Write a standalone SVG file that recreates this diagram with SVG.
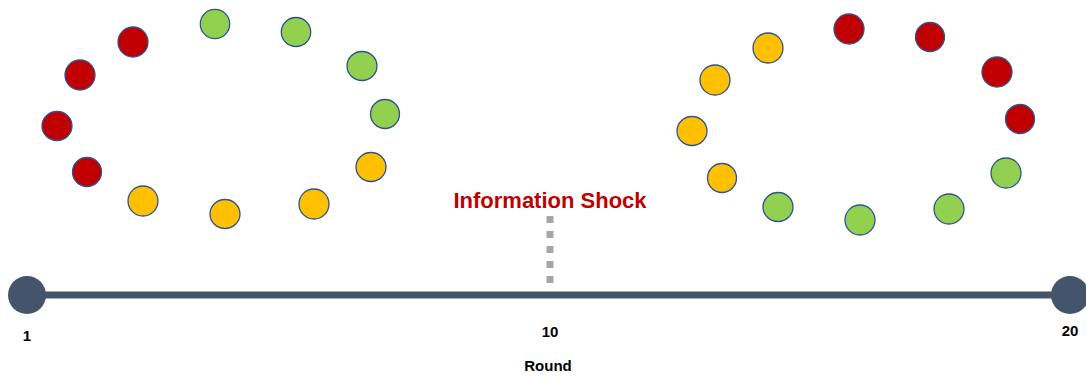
<svg xmlns="http://www.w3.org/2000/svg" width="1086" height="377" viewBox="0 0 1086 377">
<style>
.n{stroke:#2F528F;stroke-width:1.3}
.r{fill:#C00000}
.g{fill:#92D050}
.y{fill:#FFC000}
.lbl{font-family:"Liberation Sans",Arial,sans-serif;font-weight:bold;font-size:15px;fill:#000;text-anchor:middle}
.end{fill:#44546A}
</style>
<rect width="1086" height="377" fill="#fff"/>
<g id="connectors">
<line x1="27" y1="295" x2="1070" y2="295" stroke="#44546A" stroke-width="7"/>
<line x1="550" y1="216" x2="550" y2="284" stroke="#A6A6A6" stroke-width="7" stroke-dasharray="7 8"/>
</g>
<g id="left-cluster">
<g id="L1"><circle class="n r" cx="133" cy="42" r="15"/></g>
<g id="L2"><circle class="n r" cx="80" cy="75" r="15"/></g>
<g id="L3"><ellipse class="n r" cx="57" cy="126" rx="15" ry="14.5"/></g>
<g id="L4"><circle class="n r" cx="87" cy="172" r="14.5"/></g>
<g id="L5"><circle class="n y" cx="143" cy="201" r="15"/></g>
<g id="L6"><ellipse class="n y" cx="225" cy="214" rx="15" ry="14.5"/></g>
<g id="L7"><circle class="n y" cx="314" cy="204" r="15"/></g>
<g id="L8"><ellipse class="n y" cx="371" cy="167" rx="15" ry="14.5"/></g>
<g id="L9"><circle class="n g" cx="385" cy="114" r="14.5"/></g>
<g id="L10"><ellipse class="n g" cx="362" cy="66" rx="15" ry="14.5"/></g>
<g id="L11"><ellipse class="n g" cx="296" cy="32" rx="14.7" ry="14.5"/></g>
<g id="L12"><circle class="n g" cx="215" cy="24" r="14.7"/></g>
</g>
<g id="right-cluster">
<g id="R1"><circle class="n y" cx="768" cy="48" r="15"/></g>
<g id="R2"><circle class="n y" cx="715" cy="80" r="15"/></g>
<g id="R3"><ellipse class="n y" cx="692" cy="131" rx="15" ry="14.5"/></g>
<g id="R4"><ellipse class="n y" cx="722" cy="178" rx="14.5" ry="14.5"/></g>
<g id="R5"><ellipse class="n g" cx="778" cy="207" rx="15" ry="14.5"/></g>
<g id="R6"><circle class="n g" cx="860" cy="220" r="15"/></g>
<g id="R7"><circle class="n g" cx="949" cy="209" r="15"/></g>
<g id="R8"><circle class="n g" cx="1006" cy="173" r="15"/></g>
<g id="R9"><circle class="n r" cx="1020" cy="119" r="14.5"/></g>
<g id="R10"><circle class="n r" cx="997" cy="72" r="15"/></g>
<g id="R11"><ellipse class="n r" cx="930" cy="37" rx="14.5" ry="14.5"/></g>
<g id="R12"><circle class="n r" cx="849" cy="29" r="15"/></g>
</g>
<g id="start"><circle class="end" cx="27" cy="295" r="19"/><text class="lbl" x="27" y="341">1</text></g>
<g id="mid"><text class="lbl" x="550" y="337">10</text></g>
<g id="finish"><circle class="end" cx="1070" cy="295" r="19"/><text class="lbl" x="1070" y="336">20</text></g>
<g id="axis-label"><text class="lbl" x="548" y="371">Round</text></g>
<g id="shock"><text x="550" y="208" font-family="'Liberation Sans',Arial,sans-serif" font-weight="bold" font-size="22" fill="#C00000" text-anchor="middle">Information Shock</text></g>
</svg>
